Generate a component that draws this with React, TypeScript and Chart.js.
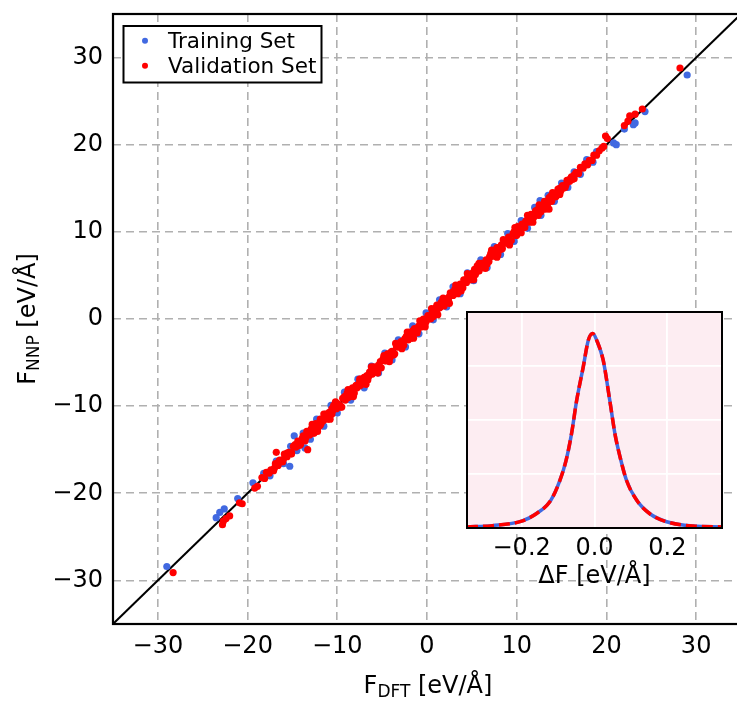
import React, { useEffect, useRef } from "react";
import { Chart, registerables } from "chart.js";

Chart.register(...registerables);

const FONT = "'DejaVu Sans', 'Liberation Sans', sans-serif";
const BLUE = "#4169e1";
const RED = "#ff0000";
const PINK = "#fdedf2";
const GRID = "#b0b0b0";

// ---- main parity plot ----
const forceMin = -35;
const forceMax = 35;
const forceTicks = [-30, -20, -10, 0, 10, 20, 30];

const seriesLabels = ["Training Set", "Validation Set"];
const xTitle = ["F", "DFT", " [eV/Å]"];
const yTitle = ["F", "NNP", " [eV/Å]"];
const insetTitle = "ΔF [eV/Å]";

const trainingBand: [number, number][] = [
  [-18.2, -17.7], [-17.5, -18.0], [-16.8, -16.3], [-16.0, -16.6], [-15.2, -14.6], [-14.5, -15.1], [-13.8, -13.1], [-13.0, -13.8], [-12.3, -11.5], [-11.5, -12.3],
  [-10.7, -9.9], [-10.0, -10.8], [-9.2, -8.4], [-8.5, -9.3], [-7.7, -6.9], [-7.0, -7.9], [-6.2, -5.4], [-5.4, -6.2], [-4.7, -3.9], [-3.9, -4.7],
  [-3.2, -2.4], [-2.4, -3.2], [-1.6, -0.8], [-0.9, -1.7], [-0.1, 0.7], [0.7, -0.1], [1.4, 2.2], [2.2, 1.4], [2.9, 3.7], [3.7, 2.9],
  [4.5, 5.3], [5.2, 4.4], [6.0, 6.8], [6.7, 5.9], [7.5, 8.3], [8.2, 7.4], [9.0, 9.8], [9.7, 8.9], [10.5, 11.3], [11.2, 10.4],
  [12.0, 12.8], [12.7, 11.9], [13.5, 14.2], [14.2, 13.5], [15.0, 15.6], [15.7, 15.1], [16.4, 16.9], [17.1, 16.6], [17.8, 18.3], [18.5, 18.0],
];

const trainingOutliers: [number, number][] = [
  [-29.0, -28.4], [-23.5, -22.8], [-22.6, -21.8], [-23.1, -22.2], [-21.1, -20.6], [-19.4, -18.8], [-14.8, -13.4], [-15.3, -16.9],
  [-13.6, -14.8], [12.6, 13.6], [18.9, 19.2], [20.8, 20.2], [21.1, 20.0], [22.0, 21.8], [23.2, 22.5], [23.0, 22.3], [24.3, 23.8], [29.0, 28.0],
];

const validationBand: [number, number][] = [
  [-18.4, -18.2], [-18.1, -18.3], [-17.9, -17.6], [-17.6, -17.7], [-17.4, -17.3], [-17.1, -17.4], [-16.9, -16.6], [-16.6, -16.8], [-16.4, -16.2], [-16.1, -16.4],
  [-15.9, -15.5], [-15.6, -15.8], [-15.4, -15.3], [-15.1, -15.5], [-14.9, -14.6], [-14.6, -14.7], [-14.4, -14.0], [-14.1, -14.4], [-13.9, -13.7], [-13.6, -14.0],
  [-13.4, -12.9], [-13.1, -13.3], [-12.9, -12.6], [-12.6, -13.1], [-12.4, -12.3], [-12.1, -12.4], [-11.9, -11.5], [-11.6, -11.7], [-11.4, -11.1], [-11.1, -11.5],
  [-10.9, -10.7], [-10.6, -10.9], [-10.4, -9.9], [-10.1, -10.3], [-9.9, -9.8], [-9.6, -10.1], [-9.4, -9.1], [-9.1, -9.3], [-8.9, -8.5], [-8.6, -8.9],
  [-8.4, -8.2], [-8.1, -8.5], [-7.9, -7.6], [-7.6, -7.7], [-7.4, -6.9], [-7.1, -7.4], [-6.9, -6.7], [-6.6, -7.0], [-6.4, -6.1], [-6.1, -6.3],
  [-5.9, -5.5], [-5.6, -5.9], [-5.4, -5.3], [-5.1, -5.6], [-4.9, -4.6], [-4.6, -4.8], [-4.4, -4.0], [-4.1, -4.4], [-3.9, -3.7], [-3.6, -4.0],
  [-3.4, -2.9], [-3.1, -3.2], [-2.9, -2.6], [-2.6, -3.0], [-2.4, -2.2], [-2.1, -2.4], [-1.9, -1.5], [-1.6, -1.8], [-1.4, -1.1], [-1.1, -1.6],
  [-0.9, -0.8], [-0.6, -0.9], [-0.4, 0.0], [-0.1, -0.3], [0.1, 0.4], [0.4, 0.0], [0.6, 0.8], [0.9, 0.6], [1.1, 1.6], [1.4, 1.3],
  [1.6, 1.9], [1.9, 1.5], [2.1, 2.3], [2.4, 2.1], [2.6, 3.0], [2.9, 2.7], [3.1, 3.4], [3.4, 2.9], [3.6, 3.7], [3.9, 3.6],
  [4.1, 4.5], [4.4, 4.2], [4.6, 4.9], [4.9, 4.5], [5.1, 5.3], [5.4, 5.1], [5.6, 6.1], [5.9, 5.8], [6.1, 6.4], [6.4, 6.0],
  [6.6, 6.8], [6.9, 6.6], [7.1, 7.5], [7.4, 7.2], [7.6, 7.9], [7.9, 7.4], [8.1, 8.2], [8.4, 8.1], [8.6, 9.0], [8.9, 8.7],
  [9.1, 9.4], [9.4, 9.0], [9.6, 9.8], [9.9, 9.6], [10.1, 10.6], [10.4, 10.3], [10.6, 10.9], [10.9, 10.5], [11.1, 11.3], [11.4, 11.1],
  [11.6, 12.0], [11.9, 11.7], [12.1, 12.4], [12.4, 11.9], [12.6, 12.7], [12.9, 12.6], [13.1, 13.5], [13.4, 13.2], [13.6, 13.9], [13.9, 13.5],
  [14.1, 14.3], [14.4, 14.1], [14.6, 14.9], [14.9, 14.7], [15.1, 15.3], [15.4, 15.1], [15.6, 15.9], [15.9, 15.8], [16.1, 16.3], [16.4, 16.1],
  [16.6, 16.8], [16.9, 16.7], [17.1, 17.4], [17.4, 17.3], [17.6, 17.8], [17.9, 17.7], [18.1, 18.2], [18.4, 18.2], [18.6, 18.8], [18.9, 18.8],
];

const validationCore: [number, number][] = [
  [-14.2, -14.5], [-13.8, -13.4], [-13.5, -13.6], [-13.0, -12.8], [-12.7, -13.1], [-12.2, -12.1], [-11.8, -12.0], [-11.3, -10.9], [-10.8, -11.1], [-10.5, -10.5],
  [-10.0, -9.7], [-9.7, -10.1], [-9.2, -9.1], [-8.8, -9.0], [-8.3, -7.9], [-7.8, -7.9], [-7.5, -7.2], [-7.0, -7.4], [-6.7, -6.5], [-6.2, -6.3],
  [-5.8, -5.7], [-5.3, -5.6], [-4.8, -4.4], [-4.5, -4.7], [-4.0, -3.8], [-3.7, -4.1], [-3.2, -3.1], [-2.8, -2.9], [-2.3, -2.0], [-1.8, -2.2],
  [-1.5, -1.3], [-1.0, -1.2], [-0.7, -0.3], [-0.2, -0.5], [0.2, 0.3], [0.7, 0.3], [1.0, 1.3], [1.5, 1.4], [1.8, 2.2], [2.3, 2.0],
  [2.8, 3.0], [3.2, 3.0], [3.7, 4.0], [4.0, 3.6], [4.5, 4.6], [4.8, 4.7], [5.3, 5.7], [5.8, 5.5], [6.2, 6.4], [6.7, 6.3],
  [7.0, 7.1], [7.5, 7.3], [7.8, 8.2], [8.3, 8.0], [8.8, 9.0], [9.2, 9.1], [9.7, 10.0], [10.0, 9.6], [10.5, 10.6], [10.8, 10.6],
  [11.3, 11.7], [11.8, 11.5], [12.2, 12.4], [12.7, 12.3], [13.0, 13.1], [13.5, 13.3], [13.8, 14.1], [14.3, 14.0], [14.8, 15.0], [15.2, 15.0],
  [15.7, 15.9], [16.2, 16.0],
];

const validationFill: [number, number][] = [
  [-17.0, -17.1], [-16.5, -16.3], [-16.0, -16.1], [-15.6, -15.4], [-15.1, -15.3], [-14.7, -14.4], [-14.2, -14.2], [-13.7, -13.9], [-13.3, -13.0], [-12.8, -12.9],
  [-12.4, -12.0], [-11.9, -12.2], [-11.5, -11.4], [-11.0, -11.2], [-10.6, -10.3], [-10.1, -10.0], [-9.7, -9.9], [-9.2, -8.9], [-8.8, -8.7], [-8.3, -8.6],
  [-7.9, -7.7], [-7.4, -7.6], [-7.0, -6.7], [-6.5, -6.6], [-6.1, -6.0], [-5.6, -5.8], [-5.2, -4.9], [-4.7, -4.8], [-4.3, -4.2], [-3.8, -4.1],
  [-3.4, -3.2], [-2.9, -3.0], [-2.5, -2.3], [-2.0, -2.1], [-1.6, -1.4], [-1.1, -1.3], [-0.7, -0.6], [-0.2, -0.1], [0.2, 0.0], [0.7, 0.9],
  [1.1, 1.0], [1.6, 1.8], [2.0, 1.8], [2.5, 2.6], [2.9, 3.1], [3.4, 3.2], [3.8, 3.9], [4.3, 4.5], [4.7, 4.6], [5.2, 5.0],
  [5.6, 5.8], [6.1, 6.2], [6.5, 6.4], [7.0, 7.2], [7.4, 7.3], [7.9, 7.7], [8.3, 8.5], [8.8, 8.8], [9.2, 9.0], [9.7, 9.9],
  [10.1, 10.2], [10.6, 10.4], [11.0, 11.2], [11.5, 11.4], [11.9, 11.8], [12.4, 12.6], [12.8, 12.7], [13.3, 13.1], [13.7, 13.9], [14.2, 14.2],
  [14.6, 14.5], [15.1, 15.2], [15.5, 15.4], [16.0, 16.1], [16.4, 16.5], [16.9, 16.8], [17.3, 17.4], [17.8, 17.7],
];

const validationSpread: [number, number][] = [
  [-12.8, -12.1], [-12.2, -12.9], [-11.5, -10.9], [-10.8, -11.5], [-10.2, -9.5], [-9.5, -10.1], [-8.8, -8.1], [-8.2, -8.9], [-7.5, -6.9], [-6.8, -7.5],
  [-6.2, -5.5], [-5.5, -6.2], [-4.8, -4.2], [-4.2, -4.9], [-3.5, -2.8], [-2.8, -3.4], [-2.2, -1.5], [-1.5, -2.2], [-0.8, -0.2], [-0.2, -0.9],
  [0.5, 1.2], [1.2, 0.5], [1.8, 2.4], [2.5, 1.8], [3.2, 3.9], [3.8, 3.2], [4.5, 5.2], [5.2, 4.5], [5.8, 6.4], [6.5, 5.8],
  [7.2, 7.9], [7.8, 7.1], [8.5, 9.1], [9.2, 8.5], [9.8, 10.5], [10.5, 9.9], [11.2, 11.9], [11.8, 11.1], [12.5, 13.1], [13.2, 12.6],
  [14.0, 14.5], [14.8, 14.3],
];

const validationOutliers: [number, number][] = [
  [-28.3, -29.1], [-22.7, -23.2], [-22.0, -22.6], [-22.8, -23.6], [-22.4, -22.9], [-20.9, -21.1], [-20.6, -21.2], [-19.2, -19.4],
  [-18.9, -19.2], [-16.8, -15.3], [-13.3, -15.0], [13.6, 12.6], [19.2, 19.3], [19.5, 19.6], [19.7, 19.8], [19.9, 21.0], [20.1, 20.7],
  [22.0, 22.2], [22.4, 22.7], [22.6, 23.3], [23.2, 23.5], [24.0, 24.1], [28.2, 28.8],
];

const parityLine = [forceMin, forceMax];

// ---- inset: error distribution ----
const errorMin = -0.35;
const errorMax = 0.35;
const errorTicks = [-0.2, 0, 0.2];
const densityMax = 4;
const densityTicks = [0, 1, 2, 3, 4];

const errorGrid = [
  -0.35, -0.28, -0.2, -0.16, -0.12, -0.095, -0.078, -0.063, -0.049, -0.031, -0.017, -0.005,
  0.008, 0.024, 0.042, 0.056, 0.07, 0.088, 0.116, 0.152, 0.198, 0.271, 0.35,
];
const trainingDensity = [
  0.02, 0.044, 0.128, 0.264, 0.512, 0.88, 1.252, 1.748, 2.36, 2.98, 3.476, 3.6,
  3.444, 3.104, 2.36, 1.748, 1.32, 0.88, 0.512, 0.264, 0.116, 0.036, 0.02,
];
const validationDensity = [
  0.02, 0.044, 0.128, 0.264, 0.512, 0.88, 1.252, 1.748, 2.36, 2.98, 3.476, 3.6,
  3.444, 3.104, 2.36, 1.748, 1.32, 0.88, 0.512, 0.264, 0.116, 0.036, 0.02,
];

function fmt(v: number, d: number) {
  const val = Math.abs(v) < 1e-9 ? 0 : v;
  return val.toFixed(d).replace("-", "\u2212");
}
function zeroPad(s: any) {
  s.paddingLeft = 0;
  s.paddingRight = 0;
  s.paddingTop = 0;
  s.paddingBottom = 0;
}

function drawSubscripted(ctx: CanvasRenderingContext2D, parts: string[], x: number, y: number, rotate: boolean) {
  const big = `24px ${FONT}`;
  const small = `17px ${FONT}`;
  ctx.save();
  ctx.translate(x, y);
  if (rotate) ctx.rotate(-Math.PI / 2);
  ctx.fillStyle = "#000";
  ctx.textAlign = "left";
  ctx.textBaseline = "alphabetic";
  ctx.font = big;
  const w1 = ctx.measureText(parts[0]).width;
  const w3 = ctx.measureText(parts[2]).width;
  ctx.font = small;
  const w2 = ctx.measureText(parts[1]).width;
  let cx = -(w1 + w2 + w3) / 2;
  ctx.font = big;
  ctx.fillText(parts[0], cx, 0);
  cx += w1;
  ctx.font = small;
  ctx.fillText(parts[1], cx, 3.5);
  cx += w2;
  ctx.font = big;
  ctx.fillText(parts[2], cx, 0);
  ctx.restore();
}

export default function App() {
  const mainRef = useRef<HTMLCanvasElement>(null);
  const insetRef = useRef<HTMLCanvasElement>(null);

  useEffect(() => {
    Chart.defaults.font.family = FONT;
    const toPts = (arr: [number, number][]) => arr.map(([x, y]) => ({ x, y }));

    const mainDecor = {
      id: "mainDecor",
      afterDraw(chart: any) {
        const { ctx, chartArea } = chart;
        const { left, top, right, bottom } = chartArea;
        ctx.save();
        ctx.strokeStyle = "#000";
        ctx.lineWidth = 2.2;
        ctx.strokeRect(left, top, right - left, bottom - top);
        // legend
        ctx.lineWidth = 2;
        ctx.fillStyle = "#fff";
        ctx.fillRect(123.5, 26, 198, 56.5);
        ctx.strokeRect(123.5, 26, 198, 56.5);
        const entries = [
          { label: chart.data.datasets[1].label, color: chart.data.datasets[1].backgroundColor, y: 40.7, base: 48 },
          { label: chart.data.datasets[0].label, color: chart.data.datasets[0].backgroundColor, y: 65.7, base: 73 },
        ];
        ctx.font = `21.5px ${FONT}`;
        ctx.textAlign = "left";
        ctx.textBaseline = "alphabetic";
        for (const e of entries) {
          ctx.fillStyle = e.color;
          ctx.beginPath();
          ctx.arc(145, e.y, 3, 0, Math.PI * 2);
          ctx.fill();
          ctx.fillStyle = "#000";
          ctx.fillText(e.label, 168, e.base);
        }
        ctx.restore();
        drawSubscripted(ctx, xTitle, (left + right) / 2 + 1, 693, false);
        drawSubscripted(ctx, yTitle, 35, (top + bottom) / 2, true);
      },
    };

    const pointR = 3.6;

    const main = new Chart(mainRef.current as HTMLCanvasElement, {
      type: "scatter",
      data: {
        datasets: [
          {
            label: seriesLabels[1],
            data: toPts([...validationBand, ...validationCore, ...validationFill, ...validationSpread, ...validationOutliers]),
            backgroundColor: RED,
            borderColor: RED,
            pointRadius: pointR,
            pointBorderWidth: 0,
            order: 0,
          },
          {
            label: seriesLabels[0],
            data: toPts([...trainingBand, ...trainingOutliers]),
            backgroundColor: BLUE,
            borderColor: BLUE,
            pointRadius: pointR,
            pointBorderWidth: 0,
            order: 1,
          },
          {
            label: "parity",
            data: parityLine.map((v) => ({ x: v, y: v })),
            showLine: true,
            borderColor: "#000",
            borderWidth: 2,
            pointRadius: 0,
            fill: false,
            order: 2,
          } as any,
        ],
      },
      options: {
        animation: false,
        responsive: false,
        maintainAspectRatio: false,
        events: [],
        layout: { padding: { left: 0, top: 14, right: 2, bottom: 0 } },
        plugins: { legend: { display: false }, tooltip: { enabled: false } },
        scales: {
          x: {
            type: "linear",
            position: "bottom",
            min: forceMin,
            max: forceMax,
            ticks: {
              autoSkip: false,
              maxRotation: 0,
              padding: 8,
              color: "#000",
              font: { family: FONT, size: 24 },
              callback: (v: any) => fmt(Number(v), 0),
            },
            grid: { color: GRID, lineWidth: 1.6, drawTicks: false },
            border: { display: false, dash: [8, 5] },
            afterBuildTicks: (s: any) => {
              s.ticks = forceTicks.map((value) => ({ value }));
            },
            afterFit: (s: any) => {
              s.height = 78;
              zeroPad(s);
            },
          },
          y: {
            type: "linear",
            position: "left",
            min: forceMin,
            max: forceMax,
            ticks: {
              autoSkip: false,
              padding: 10,
              color: "#000",
              font: { family: FONT, size: 24 },
              callback: (v: any) => fmt(Number(v), 0),
            },
            grid: { color: GRID, lineWidth: 1.6, drawTicks: false },
            border: { display: false, dash: [8, 5] },
            afterBuildTicks: (s: any) => {
              s.ticks = forceTicks.map((value) => ({ value }));
            },
            afterFit: (s: any) => {
              s.width = 113;
              zeroPad(s);
            },
          },
        },
      } as any,
      plugins: [mainDecor],
    });

    const insetDecor = {
      id: "insetDecor",
      beforeDraw(chart: any) {
        const { ctx, chartArea } = chart;
        ctx.save();
        ctx.fillStyle = PINK;
        ctx.fillRect(chartArea.left, chartArea.top, chartArea.right - chartArea.left, chartArea.bottom - chartArea.top);
        ctx.restore();
      },
      afterDraw(chart: any) {
        const { ctx, chartArea } = chart;
        const { left, top, right, bottom } = chartArea;
        ctx.save();
        ctx.strokeStyle = "#000";
        ctx.lineWidth = 2;
        ctx.strokeRect(left, top, right - left, bottom - top);
        ctx.fillStyle = "#000";
        ctx.font = `24px ${FONT}`;
        ctx.textAlign = "center";
        ctx.textBaseline = "alphabetic";
        ctx.fillText(insetTitle, (left + right) / 2, 281);
        ctx.restore();
      },
    };

    const inset = new Chart(insetRef.current as HTMLCanvasElement, {
      type: "scatter",
      data: {
        datasets: [
          {
            label: seriesLabels[1],
            data: errorGrid.map((x, i) => ({ x, y: validationDensity[i] })),
            showLine: true,
            borderColor: RED,
            borderWidth: 3.5,
            borderDash: [11, 5],
            pointRadius: 0,
            cubicInterpolationMode: "monotone",
            fill: false,
            order: 0,
          },
          {
            label: seriesLabels[0],
            data: errorGrid.map((x, i) => ({ x, y: trainingDensity[i] })),
            showLine: true,
            borderColor: BLUE,
            borderWidth: 3.5,
            pointRadius: 0,
            cubicInterpolationMode: "monotone",
            fill: false,
            order: 1,
          },
        ] as any,
      },
      options: {
        animation: false,
        responsive: false,
        maintainAspectRatio: false,
        events: [],
        layout: { padding: { left: 10, top: 10, right: 10, bottom: 0 } },
        plugins: { legend: { display: false }, tooltip: { enabled: false } },
        scales: {
          x: {
            type: "linear",
            min: errorMin,
            max: errorMax,
            ticks: {
              autoSkip: false,
              maxRotation: 0,
              padding: 6,
              color: "#000",
              font: { family: FONT, size: 24 },
              callback: (v: any) => fmt(Number(v), 1),
            },
            grid: { color: "#ffffff", lineWidth: 1.8, drawTicks: false },
            border: { display: false },
            afterBuildTicks: (s: any) => {
              s.ticks = errorTicks.map((value) => ({ value }));
            },
            afterFit: (s: any) => {
              s.height = 64;
              zeroPad(s);
            },
          },
          y: {
            type: "linear",
            min: 0,
            max: densityMax,
            ticks: { display: false },
            grid: { color: "#ffffff", lineWidth: 1.8, drawTicks: false },
            border: { display: false },
            afterBuildTicks: (s: any) => {
              s.ticks = densityTicks.map((value) => ({ value }));
            },
            afterFit: (s: any) => {
              s.width = 0;
              zeroPad(s);
            },
          },
        },
      } as any,
      plugins: [insetDecor],
    });

    return () => {
      main.destroy();
      inset.destroy();
    };
  }, []);

  return (
    <div
      style={{
        position: "absolute",
        left: 0,
        top: 0,
        width: 737,
        height: 702,
        overflow: "hidden",
        background: "#fff",
      }}
    >
      <canvas
        ref={mainRef}
        width={745}
        height={702}
        style={{ position: "absolute", left: 0, top: 0, width: 745, height: 702, display: "block" }}
      />
      <canvas
        ref={insetRef}
        width={275}
        height={290}
        style={{ position: "absolute", left: 457, top: 302, width: 275, height: 290, display: "block" }}
      />
    </div>
  );
}
